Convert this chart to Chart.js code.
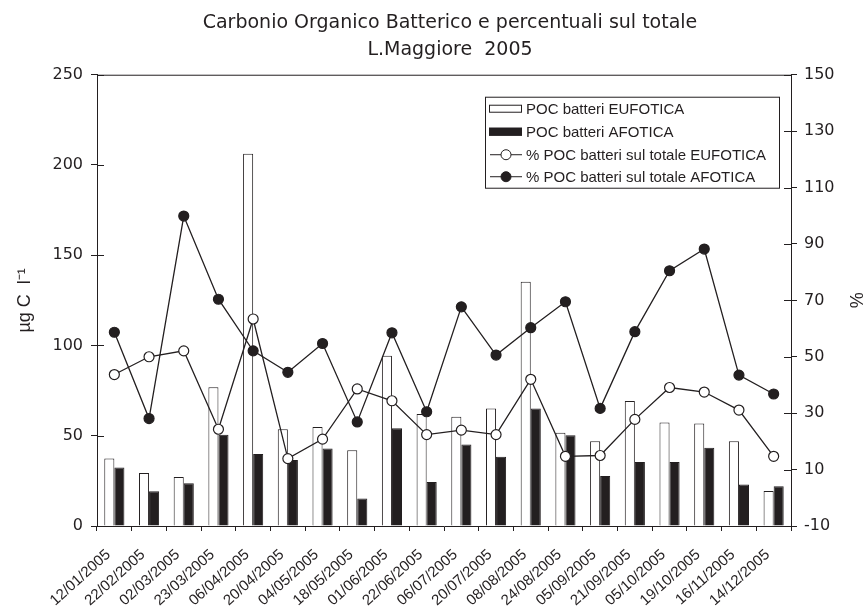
<!DOCTYPE html>
<html>
<head>
<meta charset="utf-8">
<script src="https://cdn.jsdelivr.net/npm/chart.js@4.4.1/dist/chart.umd.min.js"></script>
<style>
  html, body { margin: 0; padding: 0; background: #fff; }
</style>
</head>
<body>
<canvas id="myChart" width="866" height="607"></canvas>
<script>
const dates = ['12/01/2005', '22/02/2005', '02/03/2005', '23/03/2005', '06/04/2005',
  '20/04/2005', '04/05/2005', '18/05/2005', '01/06/2005', '22/06/2005',
  '06/07/2005', '20/07/2005', '08/08/2005', '24/08/2005', '05/09/2005',
  '21/09/2005', '05/10/2005', '19/10/2005', '16/11/2005', '14/12/2005'];

// µg C/l
const pocEufotica = [37.4, 29.4, 27.2, 76.8, 206.2, 53.6, 54.9, 42.0, 94.3, 62.0,
  60.5, 65.1, 135.3, 51.6, 47.0, 69.2, 57.3, 56.8, 47.0, 19.4];
const pocAfotica = [32.4, 19.2, 23.7, 50.5, 39.9, 36.6, 42.9, 15.2, 54.2, 24.4,
  45.1, 38.3, 65.1, 50.3, 27.7, 35.5, 35.5, 43.3, 23.0, 22.0];

// % sul totale
const percEufotica = [43.7, 50.0, 52.1, 24.3, 63.4, 13.9, 20.8, 38.6, 34.4, 22.4,
  24.0, 22.4, 42.0, 14.7, 15.0, 27.8, 39.1, 37.5, 31.1, 14.7];
const percAfotica = [58.7, 28.1, 99.9, 70.4, 52.1, 44.5, 54.7, 26.9, 58.5, 30.5,
  67.7, 50.6, 60.3, 69.5, 31.7, 58.9, 80.5, 88.2, 43.5, 36.8];

const labels = ['POC batteri EUFOTICA', 'POC batteri AFOTICA',
  '% POC batteri sul totale EUFOTICA', '% POC batteri sul totale AFOTICA'];

const ink = '#231f20';
const fontFam = '"Liberation Sans", Arial, sans-serif';
const wideFam = '"DejaVu Sans", sans-serif';

Chart.defaults.font.family = fontFam;
Chart.defaults.color = ink;

// cornice superiore + tacche interne sugli assi y
const framePlugin = {
  id: 'frame',
  afterDraw(chart) {
    const { ctx, chartArea: a } = chart;
    ctx.save();
    ctx.strokeStyle = ink;
    ctx.lineWidth = 1;
    ctx.beginPath();
    ctx.moveTo(a.left, a.top + 0.5);
    ctx.lineTo(a.right, a.top + 0.5);
    ['y', 'y1'].forEach(id => {
      const s = chart.scales[id];
      s.ticks.forEach(t => {
        const py = Math.round(s.getPixelForValue(t.value)) + 0.5;
        if (id === 'y') { ctx.moveTo(a.left, py); ctx.lineTo(a.left + 7, py); }
        else { ctx.moveTo(a.right, py); ctx.lineTo(a.right - 7, py); }
      });
    });
    ctx.stroke();
    ctx.restore();
  }
};

// legenda nel riquadro del grafico
const boxLegend = {
  id: 'boxLegend',
  afterDraw(chart) {
    const { ctx, chartArea: a } = chart;
    const x = a.right - 306, y = a.top + 22, w = 294, h = 91;
    const rows = [12, 35, 58, 80];
    ctx.save();
    ctx.fillStyle = '#fff';
    ctx.fillRect(x, y, w, h);
    ctx.strokeStyle = ink;
    ctx.lineWidth = 1;
    ctx.strokeRect(x + 0.5, y + 0.5, w, h);
    chart.data.datasets.forEach((ds, i) => {
      const cy = y + rows[i];
      if (ds.type === 'line') {
        ctx.beginPath();
        ctx.moveTo(x + 5, cy);
        ctx.lineTo(x + 37, cy);
        ctx.stroke();
        ctx.beginPath();
        ctx.arc(x + 21, cy, 5, 0, Math.PI * 2);
        ctx.fillStyle = ds.pointBackgroundColor;
        ctx.fill();
        ctx.stroke();
      } else {
        ctx.fillStyle = ds.backgroundColor;
        ctx.fillRect(x + 4, cy - 4, 33, 8);
        ctx.strokeRect(x + 4.5, cy - 3.5, 32, 7);
      }
      ctx.fillStyle = ink;
      ctx.font = '15px ' + fontFam;
      ctx.textBaseline = 'middle';
      ctx.fillText(ds.label, x + 41, cy + 1);
    });
    ctx.restore();
  }
};

new Chart(document.getElementById('myChart'), {
  type: 'bar',
  data: {
    labels: dates,
    datasets: [
      {
        label: labels[0], data: pocEufotica, yAxisID: 'y', order: 3,
        backgroundColor: '#ffffff', borderColor: ink, borderWidth: 1,
        categoryPercentage: 0.58, barPercentage: 1
      },
      {
        label: labels[1], data: pocAfotica, yAxisID: 'y', order: 3,
        backgroundColor: ink, borderColor: ink, borderWidth: 1,
        categoryPercentage: 0.58, barPercentage: 1
      },
      {
        type: 'line', label: labels[2], data: percEufotica, yAxisID: 'y1', order: 1,
        borderColor: ink, borderWidth: 1.3, pointRadius: 5,
        pointBackgroundColor: '#ffffff', pointBorderColor: ink, pointBorderWidth: 1.2,
        tension: 0
      },
      {
        type: 'line', label: labels[3], data: percAfotica, yAxisID: 'y1', order: 2,
        borderColor: ink, borderWidth: 1.3, pointRadius: 5,
        pointBackgroundColor: ink, pointBorderColor: ink, pointBorderWidth: 1.2,
        tension: 0
      }
    ]
  },
  options: {
    responsive: false,
    animation: false,
    devicePixelRatio: 1,
    // right padding negativo: sposta il centro del titolo sopra l'area del grafico
    layout: { padding: { left: 0, top: 0, bottom: 0, right: -34 } },
    plugins: {
      legend: { display: false },
      tooltip: { enabled: false },
      title: {
        display: true,
        text: ['Carbonio Organico Batterico e percentuali sul totale', 'L.Maggiore  2005'],
        color: ink,
        font: { family: wideFam, size: 19, weight: 'normal', lineHeight: 1.44 },
        padding: { top: 9, bottom: 11 }
      }
    },
    scales: {
      x: {
        offset: true,
        grid: { offset: true, drawOnChartArea: false, color: ink, tickLength: 5, tickColor: ink },
        border: { color: ink, width: 1 },
        ticks: { minRotation: 42, maxRotation: 42, autoSkip: false, font: { size: 15 }, color: ink, padding: 15, labelOffset: -6 },
        afterFit(s) { s.height = 81; }
      },
      y: {
        position: 'left',
        min: 0, max: 250,
        grid: { drawOnChartArea: false, tickLength: 6, tickColor: ink },
        border: { color: ink, width: 1 },
        ticks: { stepSize: 50, font: { family: wideFam, size: 16 }, color: ink, padding: 8 },
        title: { display: true, text: 'µg C  l⁻¹', font: { size: 18 }, color: ink, padding: { top: 14, bottom: 0 } },
        afterFit(s) { s.width = 97; }
      },
      y1: {
        position: 'right',
        min: -10, max: 150,
        grid: { drawOnChartArea: false, tickLength: 6, tickColor: ink },
        border: { color: ink, width: 1 },
        ticks: { stepSize: 20, font: { family: wideFam, size: 16 }, color: ink, padding: 7 },
        title: { display: true, text: '%', font: { size: 18 }, color: ink, padding: { top: 34, bottom: 0 } },
        afterFit(s) { s.width = 109; }
      }
    }
  },
  plugins: [framePlugin, boxLegend]
});
</script>
</body>
</html>
